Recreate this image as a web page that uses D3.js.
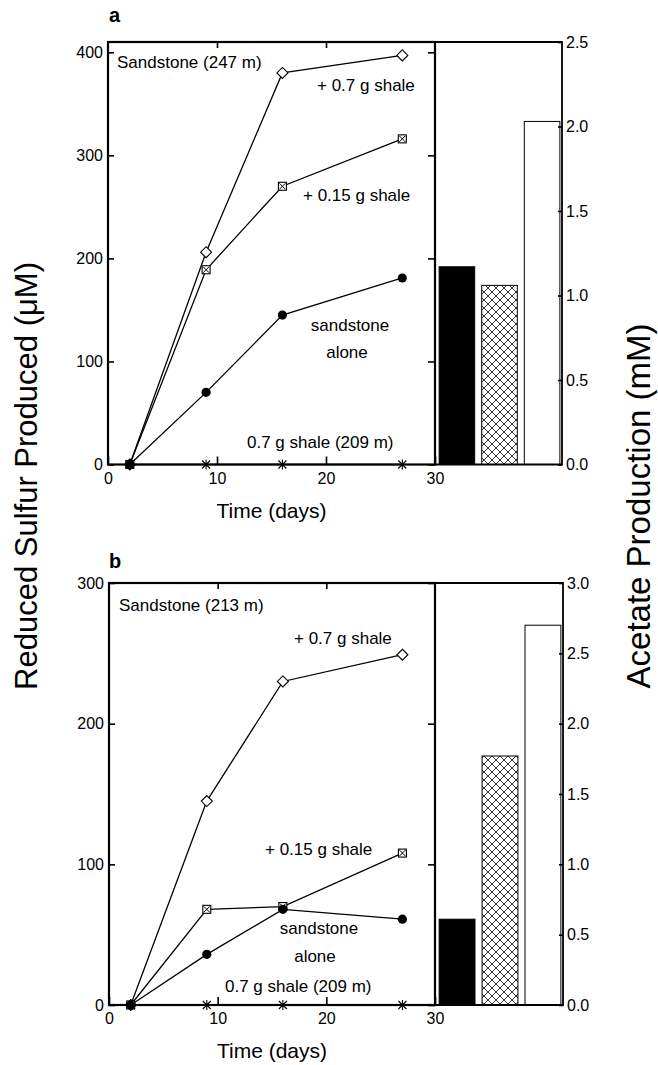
<!DOCTYPE html>
<html>
<head>
<meta charset="utf-8">
<script src="https://cdn.jsdelivr.net/npm/d3@7"></script>
<style>
  body { margin: 0; background: #fff; }
  svg text { font-family: "Liberation Sans", Arial, sans-serif; fill: #000; }
</style>
</head>
<body>
<div id="chart"></div>
<script>
// time points (days)
var days = [2, 9, 16, 27];

// panel a - reduced sulfur (uM)
var aSandstone = [0, 70, 145, 181];
var aShale015 = [0, 189, 270, 316];
var aShale07 = [0, 206, 380, 397];
var aShaleOnly = [0, 0, 0, 0];

// panel b - reduced sulfur (uM)
var bSandstone = [0, 36, 68, 61];
var bShale015 = [0, 68, 70, 108];
var bShale07 = [0, 145, 230, 249];
var bShaleOnly = [0, 0, 0, 0];

// acetate bars (mM)
var barCats = ['sandstone alone', '+ 0.15 g shale', '+ 0.7 g shale'];
var aAcetate = [1.17, 1.06, 2.03];
var bAcetate = [0.61, 1.77, 2.70];

// ticks
var dayTicks = [0, 10, 20, 30];
var sulfurTicksA = [0, 100, 200, 300, 400];
var sulfurTicksB = [0, 100, 200, 300];
var acetateTicksA = [0, 0.5, 1.0, 1.5, 2.0, 2.5];
var acetateTicksB = [0, 0.5, 1.0, 1.5, 2.0, 2.5, 3.0];

var W = 658, H = 1065;
var svg = d3.select('#chart').append('svg').attr('width', W).attr('height', H);

var defs = svg.append('defs');
var pat = defs.append('pattern').attr('id', 'xhatch')
  .attr('patternUnits', 'userSpaceOnUse').attr('width', 8).attr('height', 8);
pat.append('rect').attr('width', 8).attr('height', 8).attr('fill', '#fff');
pat.append('path')
  .attr('d', 'M0,0L8,8M-2,6L2,10M6,-2L10,2M8,0L0,8M-2,2L2,-2M6,10L10,6')
  .attr('stroke', '#000').attr('stroke-width', 0.8);

var markers = {
  circle: function(g) {
    g.append('circle').attr('r', 4.6).attr('fill', '#000');
  },
  square: function(g) {
    g.append('rect').attr('x', -4).attr('y', -4).attr('width', 8).attr('height', 8)
      .attr('fill', '#fff').attr('stroke', '#000').attr('stroke-width', 1.1);
    g.append('path').attr('d', 'M-3,-3L3,3M3,-3L-3,3').attr('stroke', '#000').attr('stroke-width', 1);
  },
  diamond: function(g) {
    g.append('path').attr('d', 'M0,-5.5L5.5,0L0,5.5L-5.5,0Z')
      .attr('fill', '#fff').attr('stroke', '#000').attr('stroke-width', 1.1);
  },
  star: function(g) {
    g.append('path').attr('d', 'M-4,-4L4,4M4,-4L-4,4M0,-5L0,5')
      .attr('stroke', '#000').attr('stroke-width', 1.1);
  }
};

function drawPanel(o) {
  var g = svg.append('g');
  var x = d3.scaleLinear().domain([0, 30]).range([o.left, o.right]);
  var y = d3.scaleLinear().domain([0, o.yMax]).range([o.bottom, o.top]);
  var y2 = d3.scaleLinear().domain([0, o.y2Max]).range([o.bottom, o.top]);
  var xb = d3.scaleBand().domain(barCats).range([o.right + 2, o.barRight])
    .paddingInner(0.165).paddingOuter(0.05);

  // bars
  var fills = ['#000', 'url(#xhatch)', '#fff'];
  g.selectAll('rect.bar').data(o.bars).enter().append('rect')
    .attr('class', 'bar')
    .attr('x', function(d, i) { return xb(barCats[i]); })
    .attr('y', function(d) { return y2(d); })
    .attr('width', xb.bandwidth())
    .attr('height', function(d) { return y2(0) - y2(d); })
    .attr('fill', function(d, i) { return fills[i]; })
    .attr('stroke', '#000').attr('stroke-width', 1);

  // series lines
  var line = d3.line().x(function(d) { return x(d[0]); }).y(function(d) { return y(d[1]); });
  o.series.forEach(function(s) {
    var pts = days.map(function(d, i) { return [d, s.values[i]]; });
    g.append('path').datum(pts).attr('d', line)
      .attr('fill', 'none').attr('stroke', '#000').attr('stroke-width', 1.3);
  });
  o.series.forEach(function(s) {
    days.forEach(function(d, i) {
      var m = g.append('g').attr('transform', 'translate(' + x(d) + ',' + y(s.values[i]) + ')');
      markers[s.marker](m);
    });
  });

  // axes
  var ax = g.append('g').attr('transform', 'translate(' + o.left + ',0)')
    .call(d3.axisLeft(y).tickValues(o.yTicks).tickSizeInner(-6).tickSizeOuter(0).tickPadding(5));
  var axR = g.append('g').attr('transform', 'translate(' + o.right + ',0)')
    .call(d3.axisRight(y).tickValues(o.yTicks).tickSizeInner(-7).tickSizeOuter(0).tickFormat(''));
  var axB = g.append('g').attr('transform', 'translate(0,' + o.bottom + ')')
    .call(d3.axisBottom(x).tickValues(dayTicks).tickSizeInner(-8).tickSizeOuter(0).tickPadding(8));
  var axT = g.append('g').attr('transform', 'translate(0,' + o.top + ')')
    .call(d3.axisTop(x).tickValues([10, 20]).tickSizeInner(-6).tickSizeOuter(0).tickFormat(''));
  var ax2 = g.append('g').attr('transform', 'translate(' + o.barRight + ',0)')
    .call(d3.axisRight(y2).tickValues(o.y2Ticks).tickSizeInner(-4).tickSizeOuter(0)
      .tickPadding(4).tickFormat(d3.format('.1f')));
  [ax, axR, axB, axT, ax2].forEach(function(a) {
    a.select('.domain').remove();
    a.selectAll('line').attr('stroke', '#000').attr('stroke-width', 1.6);
    a.selectAll('text').attr('font-size', 16).attr('font-family', '"Liberation Sans", Arial, sans-serif');
  });

  // frames
  g.append('rect').attr('x', o.left).attr('y', o.top)
    .attr('width', o.right - o.left).attr('height', o.bottom - o.top)
    .attr('fill', 'none').attr('stroke', '#000').attr('stroke-width', 2.2);
  g.append('path')
    .attr('d', 'M' + o.right + ',' + o.top + 'H' + o.barRight + 'V' + o.bottom + 'H' + o.right)
    .attr('fill', 'none').attr('stroke', '#000').attr('stroke-width', 1.8);

  // annotations
  o.notes.forEach(function(n) {
    g.append('text').attr('x', o.left + n[1]).attr('y', o.top + n[2])
      .attr('text-anchor', n[3] || 'start').attr('font-size', 17).text(n[0]);
  });

  g.append('text').attr('x', o.panelX).attr('y', o.top - o.panelDy)
    .attr('font-size', 20).attr('font-weight', 'bold').text(o.panelLabel);

  g.append('text').attr('x', (o.left + o.right) / 2).attr('y', o.bottom + 53)
    .attr('text-anchor', 'middle').attr('font-size', 21).text('Time (days)');
}

drawPanel({
  top: 42, bottom: 464.5, left: 108, right: 435, barRight: 562,
  yMax: 410, y2Max: 2.5, yTicks: sulfurTicksA, y2Ticks: acetateTicksA,
  bars: aAcetate, panelLabel: 'a', panelX: 109, panelDy: 20,
  series: [
    { values: aShaleOnly, marker: 'star' },
    { values: aShale015, marker: 'square' },
    { values: aShale07, marker: 'diamond' },
    { values: aSandstone, marker: 'circle' }
  ],
  notes: [
    ['Sandstone (247 m)', 9, 26],
    ['+ 0.7 g shale', 209, 49],
    ['+ 0.15 g shale', 195, 159],
    ['sandstone', 242, 289, 'middle'],
    ['alone', 239, 316, 'middle'],
    ['0.7 g shale (209 m)', 139, 406]
  ]
});

drawPanel({
  top: 583, bottom: 1005, left: 109, right: 435, barRight: 563,
  yMax: 300, y2Max: 3.0, yTicks: sulfurTicksB, y2Ticks: acetateTicksB,
  bars: bAcetate, panelLabel: 'b', panelX: 109, panelDy: 15,
  series: [
    { values: bShaleOnly, marker: 'star' },
    { values: bShale07, marker: 'diamond' },
    { values: bShale015, marker: 'square' },
    { values: bSandstone, marker: 'circle' }
  ],
  notes: [
    ['Sandstone (213 m)', 10, 28],
    ['+ 0.7 g shale', 185, 61],
    ['+ 0.15 g shale', 156, 272],
    ['sandstone', 210, 351, 'middle'],
    ['alone', 206, 379, 'middle'],
    ['0.7 g shale (209 m)', 116, 409]
  ]
});

// shared axis titles
svg.append('text').attr('transform', 'translate(37,476) rotate(-90)')
  .attr('text-anchor', 'middle').attr('font-size', 31).text('Reduced Sulfur Produced (\u03BCM)');
svg.append('text').attr('transform', 'translate(650,506) rotate(-90)')
  .attr('text-anchor', 'middle').attr('font-size', 33).text('Acetate Production (mM)');
</script>
</body>
</html>
